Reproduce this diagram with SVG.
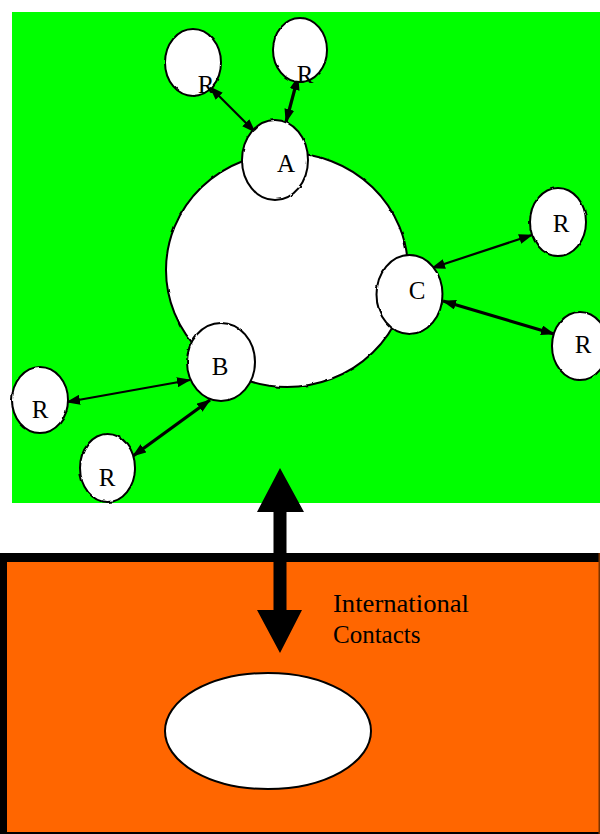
<svg xmlns="http://www.w3.org/2000/svg" width="600" height="834" viewBox="0 0 600 834">
<style>
.node{fill:#fff;stroke:#000;stroke-width:2}
.lbl{font-family:"Liberation Serif","Times New Roman",serif;font-size:25px;fill:#000;text-anchor:middle}
.con{stroke:#000;stroke-width:2.2;fill:none;marker-start:url(#ah);marker-end:url(#ah)}
.con.thick{stroke-width:3.2}
.note{font-family:"Liberation Serif","Times New Roman",serif;font-size:25px;fill:#000}
</style>
<defs>
<marker id="ah" viewBox="0 0 14 10" refX="13" refY="5" markerWidth="14" markerHeight="10" markerUnits="userSpaceOnUse" orient="auto-start-reverse">
<path d="M0,0 L14,5 L0,10 z" fill="#000"/>
</marker>
<filter id="wob" x="-10%" y="-10%" width="120%" height="120%">
<feTurbulence type="fractalNoise" baseFrequency="0.12" numOctaves="1" seed="3"/>
<feDisplacementMap in="SourceGraphic" scale="2.5" xChannelSelector="R" yChannelSelector="G"/>
</filter>
</defs>
<rect x="12" y="12" width="588" height="491" fill="#00ff00"/>
<g id="orange-region">
<rect x="0" y="553" width="600" height="281" fill="#ff6600"/>
<rect x="0" y="553" width="600" height="9" fill="#000"/>
<rect x="0" y="553" width="7" height="281" fill="#000"/>
<rect x="0" y="832" width="600" height="2" fill="#000"/>
<rect x="598.5" y="553" width="1.5" height="281" fill="#7a3300"/>
<ellipse cx="268" cy="731" rx="103" ry="58" class="node"/>
</g>
<g id="core"><ellipse cx="287" cy="270" rx="121" ry="117" class="node" filter="url(#wob)"/></g>
<g id="connectors">
<line x1="210" y1="87" x2="255" y2="132" class="con"/>
<line x1="298" y1="77" x2="286" y2="122" class="con thick"/>
<line x1="432" y1="268" x2="532" y2="235" class="con"/>
<line x1="443" y1="301" x2="554" y2="334" class="con thick"/>
<line x1="67" y1="402" x2="190" y2="380" class="con"/>
<line x1="133" y1="456" x2="210" y2="400" class="con thick"/>
<polygon points="280,468 304,512 286.5,512 286.5,610 302,610 280,653 257,610 273.5,610 273.5,512 257,512" fill="#000"/>
</g>
<g id="R1"><ellipse cx="193" cy="62.5" rx="28" ry="33.5" class="node" filter="url(#wob)"/><text x="206" y="93" class="lbl">R</text></g>
<g id="R2"><ellipse cx="300" cy="50" rx="27" ry="32" class="node" filter="url(#wob)"/><text x="305" y="83" class="lbl">R</text></g>
<g id="A"><ellipse cx="275" cy="160" rx="33" ry="40" class="node" filter="url(#wob)"/><text x="286" y="172" class="lbl">A</text></g>
<g id="C"><ellipse cx="409.5" cy="294.5" rx="33" ry="39.5" class="node" filter="url(#wob)"/><text x="417" y="299" class="lbl">C</text></g>
<g id="R3"><ellipse cx="558" cy="222" rx="28" ry="34" class="node" filter="url(#wob)"/><text x="561" y="232" class="lbl">R</text></g>
<g id="R4"><ellipse cx="580" cy="346" rx="28" ry="34" class="node" filter="url(#wob)"/><text x="583" y="353" class="lbl">R</text></g>
<g id="B"><ellipse cx="221" cy="362" rx="34" ry="39" class="node" filter="url(#wob)"/><text x="220" y="375" class="lbl">B</text></g>
<g id="R5"><ellipse cx="40" cy="400" rx="28" ry="33" class="node" filter="url(#wob)"/><text x="40" y="418" class="lbl">R</text></g>
<g id="R6"><ellipse cx="107.5" cy="468" rx="27.5" ry="34" class="node" filter="url(#wob)"/><text x="107" y="486" class="lbl">R</text></g>
<g id="label"><text x="333" y="612" class="note" textLength="136" lengthAdjust="spacingAndGlyphs">International</text><text x="333" y="643" class="note">Contacts</text></g>
</svg>
